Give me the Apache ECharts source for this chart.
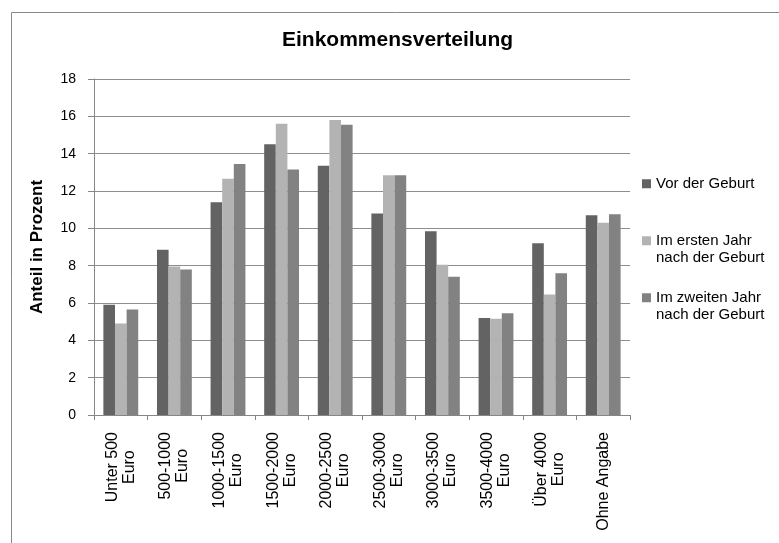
<!DOCTYPE html>
<html>
<head>
<meta charset="utf-8">
<script src="https://cdn.jsdelivr.net/npm/echarts@6/dist/echarts.min.js"></script>
<style>
  html, body { margin: 0; padding: 0; background: #fff; }
  #chart { width: 779px; height: 543px; }
</style>
</head>
<body>
<div id="chart"></div>
<script>
// Kategorien und Werte
const categories = ['Unter 500\nEuro', '500-1000\nEuro', '1000-1500\nEuro', '1500-2000\nEuro', '2000-2500\nEuro',
  '2500-3000\nEuro', '3000-3500\nEuro', '3500-4000\nEuro', 'Über 4000\nEuro', 'Ohne Angabe']
const seriesNames = ['Vor der Geburt', 'Im ersten Jahr\nnach der Geburt', 'Im zweiten Jahr\nnach der Geburt']
const vorGeburt = [5.9, 8.85, 11.4, 14.5, 13.35, 10.8, 9.85, 5.2, 9.2, 10.7]
const erstesJahr = [4.9, 7.95, 12.65, 15.6, 15.8, 12.85, 8.05, 5.15, 6.45, 10.3]
const zweitesJahr = [5.65, 7.8, 13.45, 13.15, 15.55, 12.85, 7.4, 5.45, 7.6, 10.75]
const yTicks = [0, 2, 4, 6, 8, 10, 12, 14, 16, 18]

const font = 'Liberation Sans, Arial, sans-serif'
const colors = ['#636363', '#b3b3b3', '#828282']
const xFontSize = 16

// Zeilen der gedrehten Achsenbeschriftung mittig zueinander ausrichten
const ctx = document.createElement('canvas').getContext('2d')
ctx.font = xFontSize + 'px "Liberation Sans"'
const rich = { c: { fontFamily: font, fontSize: xFontSize, lineHeight: 17, color: '#000' } }
const xLabelText = {}
categories.forEach((cat, i) => {
  const lines = cat.split('\n')
  const widths = lines.map((s) => ctx.measureText(s).width)
  const maxW = Math.max(...widths)
  xLabelText[cat] = lines.map((s, j) => {
    const pad = (maxW - widths[j]) / 2
    if (pad < 0.5) return '{c|' + s + '}'
    rich['s' + i + '_' + j] = { width: pad, fontSize: xFontSize, lineHeight: 17 }
    return '{c|' + s + '}{s' + i + '_' + j + '| }'
  }).join('\n')
})

let myChart = echarts.init(document.getElementById('chart'))
myChart.setOption({
  backgroundColor: '#fff',
  animation: false,
  color: colors,
  textStyle: { fontFamily: font },
  title: {
    text: 'Einkommensverteilung',
    left: 282,
    top: 30,
    padding: 0,
    textStyle: { fontFamily: font, fontSize: 21, fontWeight: 'bold', color: '#000' }
  },
  graphic: [{
    type: 'rect',
    shape: { x: 11.5, y: 12.5, width: 900, height: 700 },
    style: { fill: null, stroke: '#898989', lineWidth: 1 },
    silent: true
  }],
  legend: [{
    data: [seriesNames[0]],
    orient: 'vertical',
    left: 642,
    top: 175,
    padding: 0,
    icon: 'rect',
    itemWidth: 9,
    itemHeight: 9,
    textStyle: { fontFamily: font, fontSize: 15, color: '#000', lineHeight: 17.5 }
  }, {
    data: [seriesNames[1], seriesNames[2]],
    orient: 'vertical',
    left: 642,
    top: 214.5,
    padding: 0,
    itemGap: 4.5,
    icon: 'rect',
    itemWidth: 9,
    itemHeight: 9,
    formatter: (name) => ' \n' + name,
    textStyle: { fontFamily: font, fontSize: 15, color: '#000', lineHeight: 17.5 }
  }],
  grid: {
    left: 94,
    right: 149,
    top: 79,
    bottom: 128
  },
  xAxis: {
    type: 'category',
    data: categories,
    axisLine: { lineStyle: { color: '#868686', width: 1 } },
    axisTick: { show: true, length: 5, lineStyle: { color: '#868686' } },
    axisLabel: {
      rotate: 90,
      margin: 17,
      interval: 0,
      color: '#000',
      fontFamily: font,
      fontSize: xFontSize,
      lineHeight: 17,
      formatter: (v) => xLabelText[v],
      rich: rich
    }
  },
  yAxis: {
    type: 'value',
    min: yTicks[0],
    max: yTicks[yTicks.length - 1],
    interval: yTicks[1] - yTicks[0],
    name: 'Anteil in Prozent',
    nameLocation: 'middle',
    nameGap: 48,
    nameTextStyle: { fontFamily: font, fontSize: 17, fontWeight: 'bold', color: '#000' },
    axisLine: { show: true, lineStyle: { color: '#868686', width: 1 } },
    axisTick: { show: true, length: 6, lineStyle: { color: '#868686' } },
    axisLabel: { margin: 18, color: '#000', fontFamily: font, fontSize: 14 },
    splitLine: { show: true, lineStyle: { color: '#8e8e8e', width: 1 } }
  },
  series: [
    { name: seriesNames[0], type: 'bar', data: vorGeburt, barGap: '0%', barCategoryGap: '35%' },
    { name: seriesNames[1], type: 'bar', data: erstesJahr, barGap: '0%', barCategoryGap: '35%' },
    { name: seriesNames[2], type: 'bar', data: zweitesJahr, barGap: '0%', barCategoryGap: '35%' }
  ]
})
</script>
</body>
</html>
